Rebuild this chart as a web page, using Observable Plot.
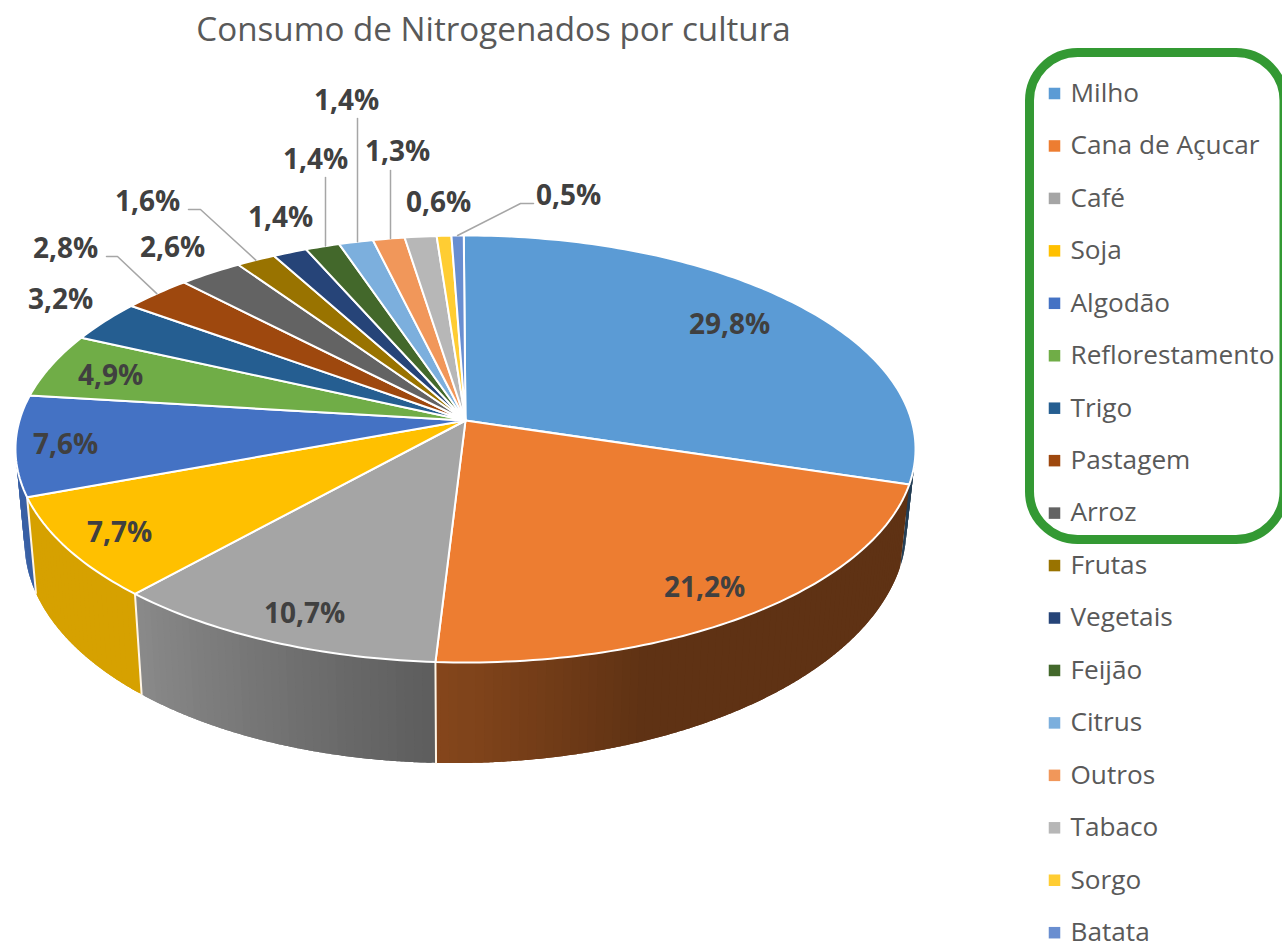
<!DOCTYPE html>
<html><head><meta charset="utf-8">
<style>html,body{margin:0;padding:0;background:#fff}svg{display:block}</style>
<script src="https://cdn.jsdelivr.net/npm/d3@7"></script>
<script src="https://cdn.jsdelivr.net/npm/@observablehq/plot@0.6"></script>
</head><body><div id="chart"></div>
<script>
const titleText = "Consumo de Nitrogenados por cultura";
const categories = ["Milho","Cana de Açucar","Café","Soja","Algodão","Reflorestamento","Trigo","Pastagem","Arroz","Frutas","Vegetais","Feijão","Citrus","Outros","Tabaco","Sorgo","Batata"];
const shares = [29.8,21.2,10.7,7.7,7.6,4.9,3.2,2.8,2.6,1.6,1.4,1.4,1.4,1.3,1.3,0.6,0.5];
const shareLabels = ["29,8%","21,2%","10,7%","7,7%","7,6%","4,9%","3,2%","2,8%","2,6%","1,6%","1,4%","1,4%","1,4%","1,3%",null,"0,6%","0,5%"];
const colors = ["#5b9bd5","#ed7d31","#a5a5a5","#ffc000","#4472c4","#70ad47","#255e91","#9e480e","#636363","#997300","#264478","#43682b","#7cafdd","#f1975a","#b7b7b7","#ffcd33","#698ed0"];

// Manual label layout, in the SVG's pixel space (like a spreadsheet's dragged labels)
const labelAt = [[729,325],[704,588],[304,614],[119,533],[65,445],[110,376],[60,300],[65,249],[172,248],[147,202],[280,218],[315,160],[346,101],[397,152],null,[438,203],[568,196]];
// Elbows of the leader lines, by category index
const leaderPath = {7:[[106,256],[117,256]],9:[[188,209],[200,209]],11:[[325,177]],12:[[357,118]],13:[[390,170]],16:[[533,203],[520,203]]};

// Perspective projection of the pie's top and bottom discs
const k = 0.1335, cx = 465, startAngle = -0.25*Math.PI/180;
const topRim = t=>{const u=Math.sin(t),v=-Math.cos(t),w=1-k*v;return [cx+446*u/w,420+209.7*v/w];};
const botRim = t=>{const u=Math.sin(t),v=-Math.cos(t),w=1-k*v;return [cx+437*u/w,504+224*v/w-7*u];};
const total = d3.sum(shares);
let acc = 0;
const slices = categories.map((name,i)=>{const a0=startAngle+acc/total*2*Math.PI;acc+=shares[i];const a1=startAngle+acc/total*2*Math.PI;return {name,i,a0,a1,color:colors[i]};});
const STEP = Math.PI/180;
const arcAngles = (a0,a1,step=STEP)=>{const n=Math.max(1,Math.ceil((a1-a0)/step));return d3.range(n+1).map(j=>a0+(a1-a0)*j/n);};

// top faces
const topPts = slices.flatMap(s=>[[cx,420],...arcAngles(s.a0,s.a1).map(a=>topRim(a)),[cx,420]].map(([x,y])=>({x,y,z:s.name,color:s.color})));

// side wall: thin shaded strips, overlapping inside each slice, back to front
const shade = t=>{const deg=t*180/Math.PI;return deg<=160?0.40:deg>=222?0.84:0.40+(deg-160)/62*0.44;};
const dark = (c,f)=>{const q=d3.rgb(c);return d3.rgb(q.r*f,q.g*f,q.b*f).formatHex();};
const strips = [];
slices.forEach(s=>{
  const as = arcAngles(s.a0,s.a1);
  for(let j=0;j<as.length-1;j++){
    const mid=(as[j]+as[j+1])/2;
    if(mid<80*STEP||mid>280*STEP) continue;
    const a=Math.max(s.a0,as[j]-STEP/2),b=Math.min(s.a1,as[j+1]+STEP/2);
    strips.push({a,b,mid,c:dark(s.color,shade(mid)),id:s.name+j});
  }
});
strips.sort((p,q)=>Math.cos(q.mid)-Math.cos(p.mid));
const stripPts = strips.flatMap(s=>{
  const fwd=arcAngles(s.a,s.b,STEP/4);
  return [...fwd.map(topRim),...fwd.slice().reverse().map(botRim)].map(([x,y])=>({x,y,z:s.id,color:s.c}));
});
const sideBorders = slices.map(s=>s.a1).filter(a=>a>115*STEP&&a<265*STEP).flatMap((a,n)=>[topRim(a),botRim(a)].map(([x,y])=>({x,y,z:n})));

// leader lines: vertical ones land on the rim straight below their label
const leaderEnd = (s,pts)=>{
  const fine=arcAngles(s.a0,s.a1,STEP/8);
  if(pts.length===1){const a=d3.least(fine,t=>Math.abs(topRim(t)[0]-pts[0][0]));return [pts[0][0],topRim(a)[1]];}
  return topRim((s.a0+s.a1)/2);
};
const leaderPts = Object.entries(leaderPath).flatMap(([i,pts])=>[...pts,leaderEnd(slices[+i],pts)].map(([x,y])=>({x,y,z:i})));

const labels = slices.filter(s=>shareLabels[s.i]).map(s=>({t:shareLabels[s.i],x:labelAt[s.i][0],y:labelAt[s.i][1]}));
const legend = categories.map((name,i)=>({name,color:colors[i],y:93+i*52.45}));

const font = "'Open Sans', sans-serif";
const plot = Plot.plot({
  width:1282,height:950,margin:0,
  x:{domain:[0,1282],range:[0,1282],axis:null},
  y:{domain:[0,950],range:[0,950],axis:null},
  color:{type:"identity"},
  style:{background:"#fff",fontFamily:font},
  marks:[
    Plot.line(stripPts,{x:"x",y:"y",z:"z",fill:"color",stroke:null,curve:"linear"}),
    Plot.line(sideBorders,{x:"x",y:"y",z:"z",stroke:"#fff5e6",strokeWidth:2}),
    Plot.line(topPts,{x:"x",y:"y",z:"z",fill:"color",stroke:"#fff",strokeWidth:2,strokeLinejoin:"round"}),
    Plot.line(leaderPts,{x:"x",y:"y",z:"z",stroke:"#a6a6a6",strokeWidth:1.5}),
    Plot.text(labels,{x:"x",y:"y",text:"t",fontSize:28,fontWeight:700,fill:"#404040",fontFamily:font}),
    Plot.text([{t:titleText,x:493,y:30}],{x:"x",y:"y",text:"t",fontSize:33.2,fill:"#595959",fontFamily:font}),
    Plot.dot(legend,{x:()=>1054,y:"y",symbol:"square",r:6.5,fill:"color"}),
    Plot.text(legend,{x:()=>1070,y:"y",text:"name",textAnchor:"start",fontSize:26.2,fill:"#595959",fontFamily:font}),
    Plot.rect([{x1:1029.5,x2:1284,y1:52.5,y2:539.5}],{x1:"x1",x2:"x2",y1:"y1",y2:"y2",fill:"none",stroke:"#339933",strokeWidth:9,rx:48})
  ]
});
document.getElementById("chart").append(plot);
</script></body></html>
